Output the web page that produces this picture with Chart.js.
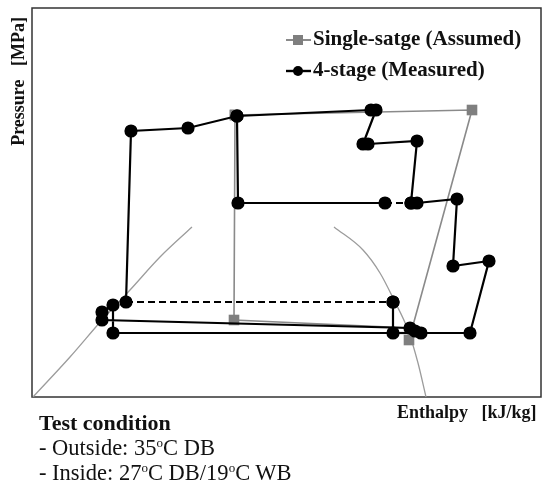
<!DOCTYPE html>
<html>
<head>
<meta charset="utf-8">
<script src="https://cdn.jsdelivr.net/npm/chart.js@4"></script>
<style>
  html, body { margin: 0; padding: 0; background: #fff; overflow: hidden; }
  #wrap { position: relative; width: 542px; height: 485px; }
  #phChart { display: block; }
  #note {
    position: absolute; left: 39px; top: 410px;
    font-family: 'Liberation Serif', 'Times New Roman', serif;
    color: #111; font-size: 22.5px; line-height: 25px;
  }
  #note b { font-size: 22px; }
  #note sup { font-size: 13px; vertical-align: 8px; line-height: 0; }
</style>
</head>
<body>
<div id="wrap">
  <canvas id="phChart" width="542" height="485"></canvas>
  <div id="note">
    <b>Test condition</b><br>
    - Outside: 35<sup>o</sup>C DB<br>
    - Inside: 27<sup>o</sup>C DB/19<sup>o</sup>C WB
  </div>
</div>
<script>
// values (enthalpy / pressure, arbitrary units, no ticks shown)
const measH = [361, 361, 81, 81, 70, 70, 378, 383, 389, 438, 457, 421, 425, 385, 379, 385, 336, 331, 344, 339, 205, 156, 99, 94, 361];
const measP = [95, 64, 64, 92, 85, 77, 69, 66, 64, 64, 136, 131, 198, 194, 194, 256, 253, 253, 287, 287, 281, 269, 266, 95, 95];
const branchH = [205, 206, 353, 379];
const branchP = [281, 194, 194, 194];
const bottomH = [361, 389];
const bottomP = [64, 64];
const singleH = [203, 440, 377, 378, 202, 203];
const singleP = [282, 287, 57, 69, 77, 282];
const liqH = [1, 38, 70, 98, 128, 160];
const liqP = [0, 40, 77, 107, 140, 170];
const vapH = [302, 331, 348, 362, 376, 386, 394];
const vapP = [170, 147, 124, 97, 67, 34, 0];

const pts = (h, p) => h.map((v, i) => ({ x: v, y: p[i] }));
const serif = "'Liberation Serif', 'Times New Roman', serif";

const framePlugin = {
  id: 'frame',
  beforeDatasetsDraw(chart) {
    const { ctx, chartArea: a } = chart;
    ctx.save();
    ctx.strokeStyle = '#333';
    ctx.lineWidth = 1.5;
    ctx.strokeRect(a.left, a.top, a.right - a.left, a.bottom - a.top);
    ctx.restore();
  },
  afterDraw(chart) {
    const ctx = chart.ctx;
    ctx.save();
    ctx.font = 'bold 21px ' + serif;
    ctx.textBaseline = 'middle';
    // gray / square
    ctx.strokeStyle = '#8a8a8a'; ctx.lineWidth = 2;
    ctx.beginPath(); ctx.moveTo(286, 40); ctx.lineTo(311, 40); ctx.stroke();
    ctx.fillStyle = '#7f7f7f'; ctx.fillRect(293, 35, 10, 10);
    ctx.fillStyle = '#111';
    ctx.fillText('Single-satge (Assumed)', 313, 40);
    // black / circle
    ctx.strokeStyle = '#000'; ctx.lineWidth = 2.4;
    ctx.beginPath(); ctx.moveTo(286, 71); ctx.lineTo(311, 71); ctx.stroke();
    ctx.beginPath(); ctx.arc(298, 71, 5, 0, Math.PI * 2); ctx.fillStyle = '#000'; ctx.fill();
    ctx.fillStyle = '#111';
    ctx.fillText('4-stage (Measured)', 313, 71);
    ctx.restore();
  }
};

const blackLine = {
  showLine: true, borderColor: '#000', backgroundColor: '#000', borderWidth: 2.2,
  pointRadius: 5.5, pointHoverRadius: 5.5, pointStyle: 'circle', tension: 0
};

new Chart(document.getElementById('phChart'), {
  type: 'scatter',
  data: {
    datasets: [
      Object.assign({}, blackLine, {
        label: '4-stage (Measured)', data: pts(measH, measP),
        segment: { borderDash: ctx => ctx.p0DataIndex === measH.length - 2 ? [7, 4] : undefined }
      }),
      Object.assign({}, blackLine, {
        label: 'branch', data: pts(branchH, branchP),
        segment: { borderDash: ctx => ctx.p0DataIndex === branchH.length - 2 ? [7, 4] : undefined }
      }),
      Object.assign({}, blackLine, { label: 'bottom', data: pts(bottomH, bottomP), pointRadius: 0 }),
      {
        label: 'Single-satge (Assumed)', data: pts(singleH, singleP), showLine: true,
        borderColor: '#8a8a8a', backgroundColor: '#7f7f7f', borderWidth: 1.6,
        pointStyle: 'rect', pointRadius: [7.5, 7.5, 7.5, 0, 7.5, 7.5], pointBorderWidth: 0, tension: 0
      },
      {
        label: 'sat liquid', data: pts(liqH, liqP), showLine: true,
        borderColor: '#9c9c9c', borderWidth: 1.3, pointRadius: 0, tension: 0.4, cubicInterpolationMode: 'monotone'
      },
      {
        label: 'sat vapour', data: pts(vapH, vapP), showLine: true,
        borderColor: '#9c9c9c', borderWidth: 1.3, pointRadius: 0, tension: 0.4, cubicInterpolationMode: 'monotone'
      }
    ]
  },
  options: {
    responsive: false,
    animation: false,
    layout: { autoPadding: false, padding: { left: 0, right: 1, top: 8, bottom: 58 } },
    plugins: { legend: { display: false }, tooltip: { enabled: false } },
    scales: {
      x: {
        type: 'linear', min: 0, max: 509,
        ticks: { display: false }, grid: { display: false }, border: { display: false },
        title: { display: true, text: 'Enthalpy   [kJ/kg] ', align: 'end', color: '#111',
                 font: { family: serif, size: 18, weight: 'bold' }, padding: { top: 0, bottom: 3 } },
        afterFit: s => { s.height = 30; }
      },
      y: {
        type: 'linear', min: 0, max: 389,
        ticks: { display: false }, grid: { display: false }, border: { display: false },
        title: { display: true, text: 'Pressure   [MPa]  ', align: 'end', color: '#111',
                 font: { family: serif, size: 18, weight: 'bold' }, padding: { top: 9, bottom: 0 } },
        afterFit: s => { s.width = 32; }
      }
    }
  },
  plugins: [framePlugin]
});
</script>
</body>
</html>
